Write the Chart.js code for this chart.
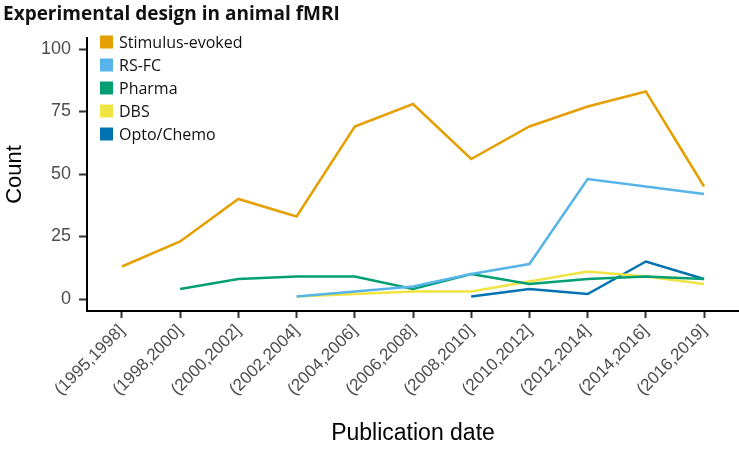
<!DOCTYPE html>
<html>
<head>
<meta charset="utf-8">
<script src="https://cdn.jsdelivr.net/npm/chart.js@4"></script>
<style>
  html, body { margin: 0; padding: 0; background: #fff; }
  #wrap { width: 739px; height: 449px; position: relative; }
</style>
</head>
<body>
<div id="wrap"><canvas id="myChart"></canvas></div>
<script>
// publication date bins
const categories = ['(1995,1998]', '(1998,2000]', '(2000,2002]', '(2002,2004]', '(2004,2006]', '(2006,2008]',
	'(2008,2010]', '(2010,2012]', '(2012,2014]', '(2014,2016]', '(2016,2019]'];

// counts per design (null = no papers in that bin)
const stimulusEvoked = [13, 23, 40, 33, 69, 78, 56, 69, 77, 83, 45];
const rsFC = [null, null, null, 1, 3, 5, 10, 14, 48, 45, 42];
const pharma = [null, 4, 8, 9, 9, 4, 10, 6, 8, 9, 8];
const dbs = [null, null, null, 1, 2, 3, 3, 7, 11, 9, 6];
const optoChemo = [null, null, null, null, null, null, 1, 4, 2, 15, 8];

const yTicks = [0, 25, 50, 75, 100];

const seriesNames = ['Stimulus-evoked', 'RS-FC', 'Pharma', 'DBS', 'Opto/Chemo'];
const seriesColours = ['#E69F00', '#56B4E9', '#009E73', '#F0E442', '#0072B2'];
const seriesValues = [stimulusEvoked, rsFC, pharma, dbs, optoChemo];

const toPoints = (arr) => arr.map((v, i) => ({ x: i, y: v }));

// title + legend sit inside the plot like the ggplot original
const overlayPlugin = {
	id: 'overlay',
	afterDraw(chart) {
		const ctx = chart.ctx;
		ctx.save();
		ctx.fillStyle = '#111';
		ctx.font = 'bold 19px "Open Sans"';
		ctx.textBaseline = 'alphabetic';
		ctx.textAlign = 'left';
		ctx.fillText('Experimental design in animal fMRI', 3, 20);

		ctx.font = '16px "Open Sans"';
		ctx.textBaseline = 'middle';
		chart.data.datasets.forEach((ds, i) => {
			const cy = 42 + i * 23;
			ctx.fillStyle = ds.borderColor;
			ctx.fillRect(100, cy - 6.5, 13, 13);
			ctx.fillStyle = '#111';
			ctx.fillText(ds.label, 119, cy + 1);
		});
		ctx.restore();
	}
};

new Chart(document.getElementById('myChart').getContext('2d'), {
	type: 'line',
	data: {
		datasets: seriesNames.map((name, i) => ({
			label: name,
			data: toPoints(seriesValues[i]),
			borderColor: seriesColours[i],
			backgroundColor: seriesColours[i],
			borderWidth: 2.5,
			pointRadius: 0,
			tension: 0,
			spanGaps: false
		}))
	},
	options: {
		responsive: true,
		maintainAspectRatio: false,
		animation: false,
		layout: { padding: { top: 38, left: 0, right: 0, bottom: 0 } },
		plugins: {
			legend: { display: false },
			title: { display: false },
			tooltip: { enabled: false }
		},
		scales: {
			x: {
				type: 'linear',
				min: -0.6,
				max: 10.6,
				afterBuildTicks: (scale) => { scale.ticks = categories.map((c, i) => ({ value: i })); },
				afterFit: (scale) => { scale.height = 138; },
				grid: { drawOnChartArea: false, color: '#333', tickLength: 7, tickWidth: 2 },
				border: { display: true, color: '#000', width: 2 },
				ticks: {
					autoSkip: false,
					maxRotation: 45,
					minRotation: 45,
					padding: 3,
					color: '#4d4d4d',
					font: { family: '"Liberation Sans", Arial, sans-serif', size: 17 },
					callback: (value) => categories[value]
				},
				title: {
					display: true,
					text: 'Publication date',
					color: '#000',
					padding: { top: 0, bottom: 2 },
					font: { family: '"Liberation Sans", Arial, sans-serif', size: 23 }
				}
			},
			y: {
				min: -4.8,
				max: 104.4,
				afterBuildTicks: (scale) => { scale.ticks = yTicks.map(v => ({ value: v })); },
				afterFit: (scale) => { scale.width = 87; },
				grid: { drawOnChartArea: false, color: '#333', tickLength: 8, tickWidth: 2 },
				border: { display: true, color: '#000', width: 2 },
				ticks: {
					padding: 8,
					color: '#4d4d4d',
					font: { family: '"Liberation Sans", Arial, sans-serif', size: 18 }
				},
				title: {
					display: true,
					text: 'Count',
					color: '#000',
					padding: { top: 2, bottom: 0 },
					font: { family: '"Liberation Sans", Arial, sans-serif', size: 22 }
				}
			}
		}
	},
	plugins: [overlayPlugin]
});
</script>
</body>
</html>
